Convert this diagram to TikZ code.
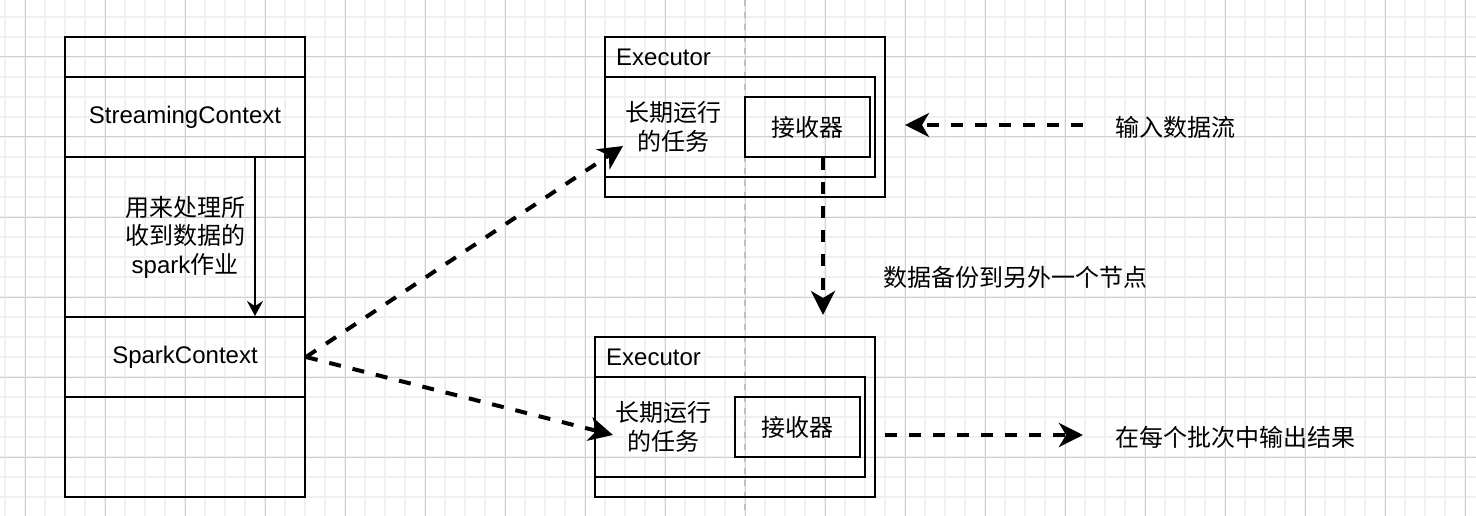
\documentclass[tikz,border=0pt]{standalone}
\usepackage{fontspec}
\setmainfont{Liberation Sans}
\newfontfamily\cjk{Noto Sans CJK SC}
\usepackage{tikz}
\usetikzlibrary{arrows.meta}
\usepackage{xcolor}
\definecolor{gridminor}{HTML}{F0F0F0}
\definecolor{gridmajor}{HTML}{D0D0D0}
\definecolor{pagebreak}{HTML}{C0C0C0}

\begin{document}
\begin{tikzpicture}[x=1pt,y=-1pt,
	every node/.style={font=\fontsize{24}{28.5}\selectfont},
	box/.style={draw,line width=2pt,inner sep=0pt},
	flow/.style={line width=4pt,dash pattern=on 12pt off 12pt,-{Stealth[length=24pt,width=24pt,inset=7pt]}},
	link/.style={line width=2pt,-{Stealth[length=15pt,width=16pt,inset=5pt]}}]
		\useasboundingbox (0,0) rectangle (1476,516);
		\fill[white] (0,0) rectangle (1476,516);
		% grid
		\foreach \x in {5,25,...,1465} \draw[gridminor,line width=2pt] (\x,0) -- (\x,516);
		\foreach \y in {17,37,...,497} \draw[gridminor,line width=2pt] (0,\y) -- (1476,\y);
		\foreach \x in {25,105,...,1465} \draw[gridmajor,line width=1pt] (\x,0) -- (\x,516);
		\foreach \y in {57,137,...,457} \draw[gridmajor,line width=1pt] (0,\y) -- (1476,\y);
		\draw[pagebreak,line width=1.5pt,dash pattern=on 6pt off 6pt] (745,0) -- (745,516);
		% driver
		\node[box,minimum width=240pt,minimum height=40pt] (head) at (185,57) {};
		\node[box,minimum width=240pt,minimum height=80pt] (stream) at (185,117) {StreamingContext};
		\node[box,minimum width=240pt,minimum height=160pt,align=center] (job) at (185,237) {{\cjk 用来处理所}\\{\cjk 收到数据的}\\spark{\cjk 作业}};
		\node[box,minimum width=240pt,minimum height=80pt] (spark) at (185,357) {SparkContext};
		\node[box,minimum width=240pt,minimum height=100pt] (tail) at (185,447) {};
		\draw[link] ([xshift=70pt]job.north) -- ([xshift=70pt]spark.north);
		% executors
		\node[box,minimum width=280pt,minimum height=160pt] (exec1) at (745,117) {};
		\node[box,minimum width=270pt,minimum height=100pt] (task1) at (740,127) {};
		\node[box,minimum width=125pt,minimum height=60pt] (recv1) at (807.5,127) {\cjk 接收器};
		\node[anchor=west,inner xsep=0pt] (name1) at (616,57) {Executor};
		\node[align=center] (job1) at (673,127) {{\cjk 长期运行}\\{\cjk 的任务}};
		\node[box,minimum width=280pt,minimum height=160pt] (exec2) at (735,417) {};
		\node[box,minimum width=270pt,minimum height=100pt] (task2) at (730,427) {};
		\node[box,minimum width=125pt,minimum height=60pt] (recv2) at (797.5,427) {\cjk 接收器};
		\node[anchor=west,inner xsep=0pt] (name2) at (606,357) {Executor};
		\node[align=center] (job2) at (663,427) {{\cjk 长期运行}\\{\cjk 的任务}};
		% labels
		\node (inlabel) at (1175,127) {\cjk 输入数据流};
		\node (replabel) at (1015,277) {\cjk 数据备份到另外一个节点};
		\node (outlabel) at (1235,437) {\cjk 在每个批次中输出结果};
		% flows
		\coordinate (in1) at (623,146);
		\coordinate (in2) at (613,435);
		\coordinate (rep) at (823,315);
		\coordinate (src) at (1083,125);
		\coordinate (srctip) at (905,125);
		\coordinate (outs) at (885,435);
		\coordinate (oute) at (1083,435);
		\draw[flow] (spark.east) -- (in1);
		\draw[flow] (spark.east) -- (in2);
		\draw[flow] (recv1.south -| rep) -- (rep);
		\draw[flow] (src) -- (srctip);
		\draw[flow] (outs) -- (oute);
    \end{tikzpicture}
\end{document}
